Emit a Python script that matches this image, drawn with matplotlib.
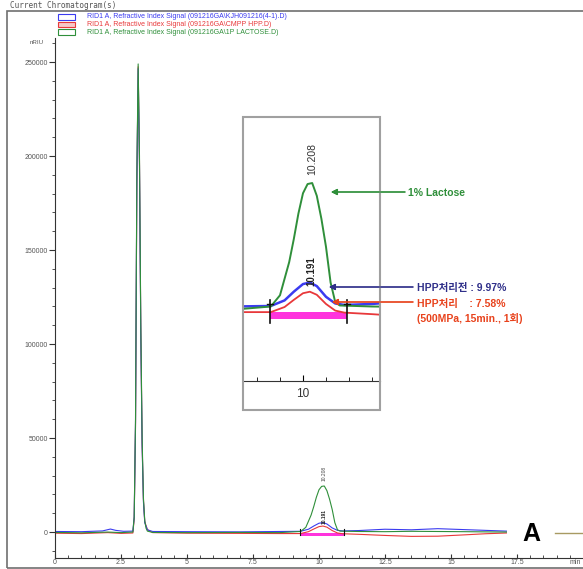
import matplotlib.pyplot as plt
from matplotlib.patches import Rectangle
from matplotlib.ticker import FixedLocator, MultipleLocator

plt.rcParams['font.family'] = ['Liberation Sans', 'Noto Sans CJK KR', 'DejaVu Sans']

# retention time (min) / signal (nRIU) for each run
blue_t = [0, 1.0, 1.8, 2.1, 2.3, 2.6, 2.95, 3.0, 3.05, 3.1, 3.15, 3.2, 3.25, 3.3, 3.35, 3.4, 3.5, 3.7,
          5.0, 7.0, 8.5, 9.3, 9.6, 9.8, 10.0, 10.15, 10.3, 10.5, 10.7, 10.9, 11.5, 12.5, 13.5, 14.5,
          15.5, 16.3, 17.1]
blue_y = [300, 200, 600, 1600, 900, 400, 500, 8000, 58000, 185000, 246500, 195000, 105000, 46000,
          16000, 5000, 1200, 300, 200, 100, 300, 400, 1500, 3200, 4700, 5000, 4300, 2200, 900, 600,
          800, 1500, 1200, 1800, 1300, 900, 500]

red_t = [0, 1.0, 2.0, 2.5, 2.95, 3.0, 3.05, 3.1, 3.15, 3.2, 3.25, 3.3, 3.35, 3.4, 3.5, 3.7, 5.0, 7.0,
         8.5, 9.3, 9.6, 9.8, 10.0, 10.15, 10.3, 10.5, 10.7, 10.9, 11.5, 12.5, 13.5, 14.5, 15.5, 16.3,
         17.1]
red_y = [-600, -800, -300, -700, -500, 7000, 56000, 184000, 247500, 197000, 107000, 47000, 17000, 5500,
         1300, -300, -600, -700, -800, -800, 200, 1600, 2900, 3200, 2600, 800, -500, -900, -1200,
         -1800, -2300, -2200, -1500, -900, -500]

green_t = [0, 1.0, 2.0, 2.5, 2.95, 3.0, 3.05, 3.1, 3.15, 3.2, 3.25, 3.3, 3.35, 3.4, 3.45, 3.5, 3.7,
           5.0, 7.0, 8.5, 9.3, 9.5, 9.7, 9.8, 9.9, 10.0, 10.1, 10.2, 10.3, 10.4, 10.5, 10.6, 10.7,
           10.8, 11.5, 12.5, 13.5, 14.5, 15.5, 16.3, 17.1]
green_y = [-200, -400, 0, -300, 0, 8000, 60000, 190000, 249000, 200000, 110000, 50000, 18000, 6000,
           2000, 500, -200, -300, -200, -300, 300, 2500, 9000, 13500, 18500, 22500, 24300, 24500,
           22000, 17500, 12000, 5000, 1200, 500, 300, 200, 400, 300, 200, 100, 0]

tail_t = [18.95, 20.0]
tail_y = [-300, -300]

# integration baseline of the 10.2 min peak
integ_t = [9.28, 10.96]
integ_lo, integ_hi = -2200, -700

peak_label = '10.208'
peak_label_y = 27000
small_label = '10.191'
small_label_y = 4300

x_ticks = [0, 2.5, 5, 7.5, 10, 12.5, 15, 17.5]
x_tick_labels = ['0', '2.5', '5', '7.5', '10', '12.5', '15', '17.5']
y_ticks = [0, 50000, 100000, 150000, 200000, 250000]

legend_names = ['RID1 A, Refractive Index Signal (091216GA\\KJH091216(4-1).D)',
                'RID1 A, Refractive Index Signal (091216GA\\CMPP HPP.D)',
                'RID1 A, Refractive Index Signal (091216GA\\1P LACTOSE.D)']

BLUE, RED, GREEN = '#3b3bf0', '#e8383a', '#2f8f3a'
W, H = 583, 569


def fx(px):
    return px / W


def fy(py):
    return 1 - py / H


fig = plt.figure(figsize=(W / 100, H / 100), dpi=100)

# outer frame and heading
fig.add_artist(Rectangle((fx(7), fy(568)), 1.0, fy(11) - fy(568), transform=fig.transFigure,
                         fill=False, edgecolor='#707070', lw=1.2))
fig.text(fx(10), fy(5), 'Current Chromatogram(s)', family='DejaVu Sans Mono', fontsize=5.5,
         color='#555555', va='center')
for i, (name, c, fc) in enumerate(zip(legend_names, [BLUE, RED, GREEN],
                                      ['#ffffff', '#f6c8c8', '#ffffff'])):
    y = 17 + 7.5 * i
    fig.add_artist(Rectangle((fx(58), fy(y + 2.5)), fx(17), fy(0) - fy(5), transform=fig.transFigure,
                             facecolor=fc, edgecolor=c, lw=0.8))
    fig.text(fx(87), fy(y), name, fontsize=5, color=c, va='center')
fig.text(fx(37), fy(42), 'nRIU', fontsize=4.5, color='#555555', ha='center', va='center')

# main chromatogram
ax = fig.add_axes([fx(55), fy(558), 1 - fx(55), fy(38) - fy(558)])
ax.plot(tail_t, tail_y, color='#a89a62', lw=1.0, clip_on=False)
ax.plot(red_t, red_y, color=RED, lw=0.8)
ax.plot(blue_t, blue_y, color=BLUE, lw=0.8)
ax.plot(green_t, green_y, color=GREEN, lw=0.8)
ax.fill_between(integ_t, integ_lo, integ_hi, color='#ff33dd', lw=0)
for t in integ_t:
    ax.plot([t, t], [-1500, 1500], color='#111111', lw=0.8)
ax.text(10.21, peak_label_y, peak_label, rotation=90, fontsize=3.5, color='#444444',
        ha='center', va='bottom')
ax.text(10.19, small_label_y, small_label, rotation=90, fontsize=3.5, fontweight='bold',
        color='#222222', ha='center', va='bottom')

ax.set_xlim(0, 20)
ax.set_ylim(-13800, 262800)
for side in ['top', 'right']:
    ax.spines[side].set_visible(False)
for side in ['left', 'bottom']:
    ax.spines[side].set_color('#333333')
    ax.spines[side].set_linewidth(0.8)
ax.xaxis.set_major_locator(FixedLocator(x_ticks))
ax.set_xticklabels(x_tick_labels)
ax.xaxis.set_minor_locator(MultipleLocator(0.5))
ax.yaxis.set_major_locator(FixedLocator(y_ticks))
ax.set_yticklabels([str(v) for v in y_ticks])
ax.yaxis.set_minor_locator(MultipleLocator(10000))
ax.tick_params(axis='x', which='major', direction='in', length=3, pad=1, labelsize=5,
               labelcolor='#555555', color='#333333')
ax.tick_params(axis='x', which='minor', direction='in', length=2, color='#333333')
ax.tick_params(axis='y', which='major', direction='out', length=4, pad=1, labelsize=5,
               labelcolor='#555555', color='#333333')
ax.tick_params(axis='y', which='minor', direction='out', length=2.5, color='#333333')
fig.text(fx(575), fy(563), 'min', fontsize=5, color='#555555', ha='center', va='center')
ax.text(18.05, -1000, 'A', fontsize=18, fontweight='bold', ha='center', va='center')

# zoomed view of the 10.2 min peak
ins = fig.add_axes([fx(243), fy(381), fx(380) - fx(243), fy(117) - fy(381)])
ins.plot(red_t, red_y, color=RED, lw=1.3)
ins.plot(blue_t, blue_y, color=BLUE, lw=1.8)
ins.plot(green_t, green_y, color=GREEN, lw=1.4)
ins.fill_between(integ_t, integ_lo, integ_hi, color='#ff33dd', lw=0)
for t in integ_t:
    ins.plot([t, t], [-3000, 1500], color='#111111', lw=1.2)
    ins.plot([t - 0.07, t + 0.07], [700, 700], color='#111111', lw=1.0)
ins.text(10.21, peak_label_y - 1000, peak_label, rotation=90, fontsize=7.5, color='#333333',
         ha='center', va='bottom')
ins.text(10.19, small_label_y, small_label, rotation=90, fontsize=7, fontweight='bold',
         color='#222222', ha='center', va='bottom')
ins.set_xlim(8.696, 11.674)
ins.set_ylim(-14300, 37440)
for side in ['top', 'right', 'left']:
    ins.spines[side].set_visible(False)
ins.spines['bottom'].set_color('#333333')
ins.set_yticks([])
ins.set_xticks([10])
ins.set_xticklabels(['10'])
ins.xaxis.set_minor_locator(MultipleLocator(0.5))
ins.tick_params(axis='x', which='major', direction='in', length=4, pad=5, labelsize=8.5,
                labelcolor='#333333')
ins.tick_params(axis='x', which='minor', direction='in', length=3)
fig.add_artist(Rectangle((fx(243), fy(410)), fx(380) - fx(243), fy(117) - fy(410),
                         transform=fig.transFigure, fill=False, edgecolor='#a0a0a0', lw=1.5))

# callouts
callouts = [
    ((405, 192), (331, 192), GREEN),
    ((413, 287), (329, 287), '#30308a'),
    ((413, 302), (332, 302), '#e8421c'),
]
for (x0, y0), (x1, y1), c in callouts:
    fig.add_artist(plt.annotate('', xy=(fx(x1), fy(y1)), xytext=(fx(x0), fy(y0)),
                                xycoords='figure fraction', textcoords='figure fraction',
                                arrowprops=dict(arrowstyle='-|>', color=c, lw=0.9,
                                                mutation_scale=9, shrinkA=0, shrinkB=0)))
fig.text(fx(408), fy(193), '1% Lactose', fontsize=7.5, fontweight='bold', color=GREEN,
         va='center')
fig.text(fx(417), fy(288), 'HPP처리전 : 9.97%', fontsize=7.5, fontweight='bold', color='#30308a',
         va='center')
fig.text(fx(417), fy(304), 'HPP처리    : 7.58%', fontsize=7.5, fontweight='bold', color='#e8421c',
         va='center')
fig.text(fx(417), fy(319), '(500MPa, 15min., 1회)', fontsize=7.5, fontweight='bold',
         color='#e8421c', va='center')

fig.savefig('out.png', dpi=100)
